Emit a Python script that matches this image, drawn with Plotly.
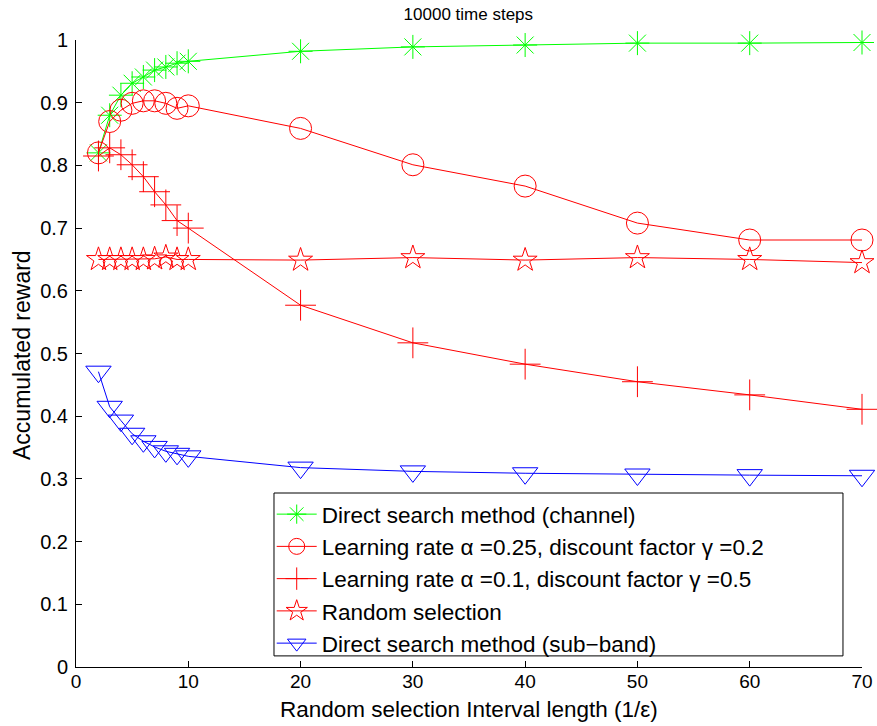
import plotly.graph_objects as go

x_vals = [2, 3, 4, 5, 6, 7, 8, 9, 10, 20, 30, 40, 50, 60, 70]

channel = [0.820, 0.880, 0.912, 0.931, 0.941, 0.952, 0.957, 0.963, 0.966, 0.982, 0.989, 0.992, 0.995, 0.995, 0.996]
lr025 = [0.820, 0.870, 0.888, 0.899, 0.903, 0.903, 0.899, 0.891, 0.895, 0.859, 0.801, 0.767, 0.708, 0.681, 0.681]
lr01 = [0.815, 0.828, 0.817, 0.801, 0.782, 0.758, 0.737, 0.712, 0.700, 0.577, 0.517, 0.483, 0.455, 0.434, 0.411]
random_sel = [0.650, 0.650, 0.650, 0.650, 0.650, 0.651, 0.654, 0.650, 0.650, 0.649, 0.653, 0.649, 0.653, 0.650, 0.645]
subband = [0.471, 0.415, 0.393, 0.372, 0.360, 0.351, 0.344, 0.340, 0.336, 0.318, 0.312, 0.309, 0.307, 0.306, 0.305]

names = [
    "Direct search method (channel)",
    "Learning rate \u03b1 =0.25, discount factor \u03b3 =0.2",
    "Learning rate \u03b1 =0.1, discount factor \u03b3 =0.5",
    "Random selection",
    "Direct search method (sub\u2212band)",
]
series = [channel, lr025, lr01, random_sel, subband]
colors = ["#00ff00", "#ff0000", "#ff0000", "#ff0000", "#0000ff"]
symbols = ["asterisk-open", "circle-open", "cross-thin-open", "star-open", "triangle-down-open"]
sizes = [20, 22, 22, 18, 22]

x_ticks = [0, 10, 20, 30, 40, 50, 60, 70]
y_ticks = [0, 0.1, 0.2, 0.3, 0.4, 0.5, 0.6, 0.7, 0.8, 0.9, 1]
y_tick_text = ["0", "0.1", "0.2", "0.3", "0.4", "0.5", "0.6", "0.7", "0.8", "0.9", "1"]

fig = go.Figure()
for name, ys, c, s, sz in zip(names, series, colors, symbols, sizes):
    fig.add_trace(go.Scatter(
        x=x_vals, y=ys, name=name, mode="lines+markers", cliponaxis=False,
        line=dict(color=c, width=1),
        marker=dict(symbol=s, size=sz, color=c, line=dict(color=c, width=1)),
    ))

font = "Liberation Sans, Arial, sans-serif"
fig.update_layout(
    width=877, height=726,
    margin=dict(l=76, r=15, t=40, b=59, autoexpand=False),
    paper_bgcolor="white", plot_bgcolor="white",
    font=dict(family=font, size=20, color="black"),
    title=dict(text="10000 time steps", x=0.534, xanchor="center", xref="container",
               y=0.981, yanchor="middle", yref="container", font=dict(size=17)),
    showlegend=True,
    legend=dict(x=0.249, y=0.2775, xanchor="left", yanchor="top",
                borderwidth=0, bgcolor="rgba(0,0,0,0)",
                font=dict(size=22.5), itemwidth=40, tracegroupgap=0),
    shapes=[dict(type="rect", xref="paper", yref="paper",
                 x0=0.2519, x1=0.9758, y0=0.0177, y1=0.2775,
                 line=dict(color="black", width=1), fillcolor="white", layer="above")],
    annotations=[
        dict(text="Random selection Interval length (1/\u03b5)", xref="paper", yref="paper",
             x=0.5, y=-0.0670, xanchor="center", yanchor="middle", showarrow=False,
             borderpad=0, font=dict(size=22.5)),
        dict(text="Accumulated reward", xref="paper", yref="paper", textangle=-90,
             x=-0.0687, y=0.4976, xanchor="center", yanchor="middle", showarrow=False,
             font=dict(size=23)),
    ],
)
fig.update_xaxes(range=[0, 70], tickvals=x_ticks, automargin=False,
                 ticks="inside", ticklen=6, tickcolor="black", showline=True, linecolor="black",
                 linewidth=1, showgrid=False, zeroline=False, mirror=False,
                 tickfont=dict(size=19), ticklabelstandoff=-3)
fig.update_yaxes(range=[0, 1], tickvals=y_ticks, ticktext=y_tick_text, automargin=False,
                 ticks="inside", ticklen=6, tickcolor="black", showline=True, linecolor="black",
                 linewidth=1, showgrid=False, zeroline=False, mirror=False, ticklabelstandoff=3)

fig.write_html("out.html", config={"displayModeBar": False},
               post_script="document.body.style.margin='0px';document.body.style.padding='0px';")
